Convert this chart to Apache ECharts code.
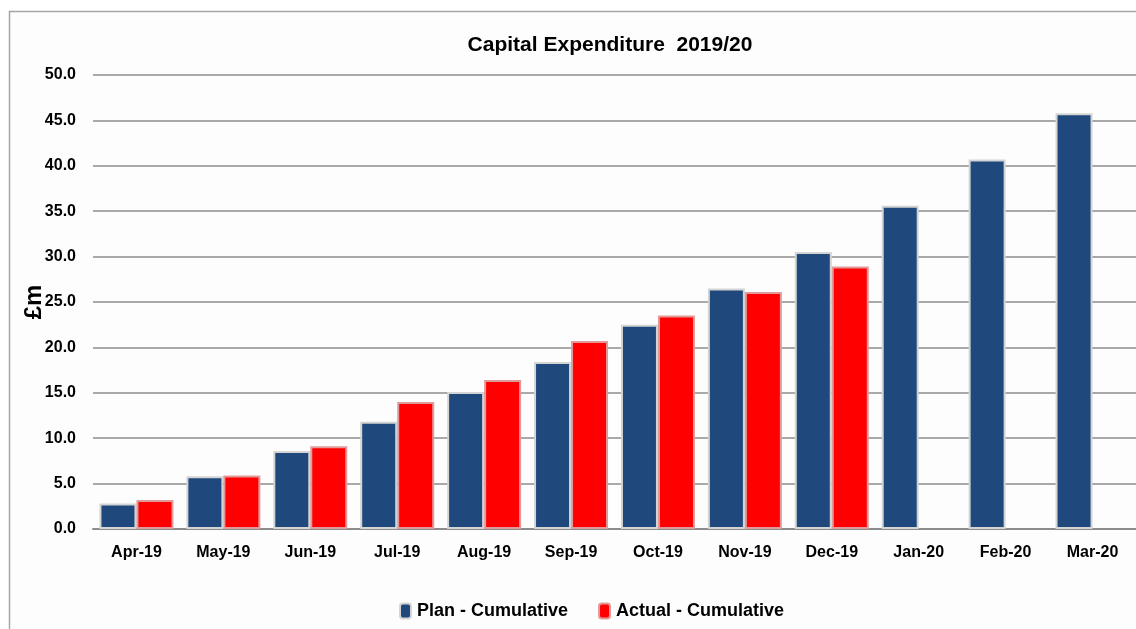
<!DOCTYPE html>
<html>
<head>
<meta charset="utf-8">
<script src="https://cdn.jsdelivr.net/npm/echarts@6/dist/echarts.min.js"></script>
<style>html,body{margin:0;padding:0;background:#fff;}#c{width:1136px;height:629px;}</style>
</head>
<body>
<div id="c"></div>
<script>
const categories = ['Apr-19','May-19','Jun-19','Jul-19','Aug-19','Sep-19','Oct-19','Nov-19','Dec-19','Jan-20','Feb-20','Mar-20'];
const planCumulative = [2.8, 5.8, 8.6, 11.8, 15.1, 18.4, 22.5, 26.5, 30.5, 35.6, 40.7, 45.8];
const actualCumulative = [3.2, 5.9, 9.1, 14.0, 16.4, 20.7, 23.5, 26.1, 28.9, null, null, null];
const yTicks = {min: 0, max: 50, interval: 5};

const narrow = '"Liberation Sans Narrow", "Arial Narrow", "Liberation Sans", sans-serif';
const chart = echarts.init(document.getElementById('c'));
chart.setOption({
  backgroundColor: '#fff',
  animation: false,
  graphic: [{
    type: 'rect', z: -10,
    shape: {x: 9.5, y: 11.5, width: 1300, height: 800},
    style: {fill: '#fdfdfd', stroke: '#a6a6a6', lineWidth: 1.5}
  }],
  title: {
    text: 'Capital Expenditure  2019/20',
    left: 605, top: 30, textAlign: 'center',
    textStyle: {fontFamily: narrow, fontWeight: 'bold', fontSize: 21, color: '#000'}
  },
  legend: {
    data: ['Plan - Cumulative', 'Actual - Cumulative'],
    left: 394, top: 597, itemWidth: 11, itemHeight: 15, itemGap: 30,
    textStyle: {fontFamily: narrow, fontWeight: 'bold', fontSize: 18, color: '#000', padding: [0, 0, 0, 1]}
  },
  grid: {left: 93, right: 0, top: 75, bottom: 100, containLabel: false},
  xAxis: {
    type: 'category', data: categories,
    axisLine: {lineStyle: {color: '#8c8c8c', width: 2}},
    axisTick: {show: false},
    axisLabel: {fontFamily: narrow, fontWeight: 'bold', fontSize: 16, color: '#000', margin: 16}
  },
  yAxis: {
    type: 'value', min: yTicks.min, max: yTicks.max, interval: yTicks.interval,
    name: '£m', nameLocation: 'middle', nameGap: 47, nameRotate: 90, nameMoveOverlap: false,
    nameTextStyle: {fontFamily: narrow, fontWeight: 'bold', fontSize: 24, color: '#000'},
    axisLine: {show: false}, axisTick: {show: false},
    axisLabel: {fontFamily: narrow, fontWeight: 'bold', fontSize: 16, color: '#000', margin: 17,
      formatter: v => v.toFixed(1)},
    splitLine: {lineStyle: {color: '#8c8c8c', width: 1.5}}
  },
  series: [
    {name: 'Plan - Cumulative', type: 'bar', data: planCumulative, barWidth: 37, barGap: '0%',
     itemStyle: {color: '#1f497d', borderColor: '#d4d4d4', borderWidth: 2}},
    {name: 'Actual - Cumulative', type: 'bar', data: actualCumulative, barWidth: 37,
     itemStyle: {color: '#ff0000', borderColor: '#e19a9a', borderWidth: 2}}
  ]
});
</script>
</body>
</html>
